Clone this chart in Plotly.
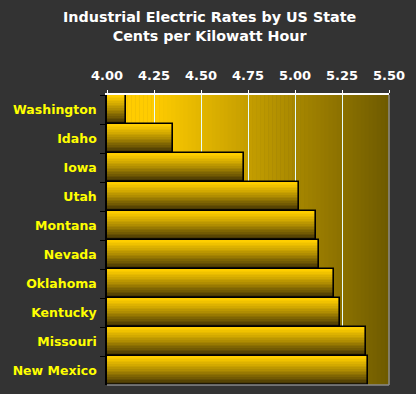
import plotly.graph_objects as go

states = ["Washington", "Idaho", "Iowa", "Utah", "Montana", "Nevada",
          "Oklahoma", "Kentucky", "Missouri", "New Mexico"]
rates = [4.10, 4.35, 4.73, 5.02, 5.11, 5.13, 5.21, 5.24, 5.38, 5.39]
tick_vals = [4.00, 4.25, 4.50, 4.75, 5.00, 5.25, 5.50]
base_val = 4.0


def lerp(c1, c2, t):
    return "rgb(%d,%d,%d)" % tuple(round(a + (b - a) * t) for a, b in zip(c1, c2))


fig = go.Figure()

# vertical gradient inside bars via thin stacked stripes (drawn top to bottom, overlapping)
N = 18
top_c = (255, 206, 0)
bot_c = (60, 46, 4)
lengths = [r - base_val for r in rates]
for i in range(N):
    t = i / (N - 1)
    c = lerp(top_c, bot_c, t ** 1.2)
    start = -0.5 + i / N
    fig.add_trace(go.Bar(
        orientation="h", y=states, x=lengths, base=base_val,
        width=0.5 - start if i == N - 1 else 1.0 / N + 0.02, offset=start,
        marker=dict(color=c, line=dict(width=0)),
        hoverinfo="skip", showlegend=False))

# outline
fig.add_trace(go.Bar(
    orientation="h", y=states, x=lengths, base=base_val,
    width=1.0, marker=dict(color="rgba(0,0,0,0)", line=dict(color="black", width=1.6)),
    showlegend=False))

# horizontal gradient plot background
M = 70
left_c = (255, 204, 0)
right_c = (110, 90, 0)
flat = 1 / 6
shapes = []
for i in range(M):
    xm = (i + 0.5) / M
    t = 0 if xm < flat else (xm - flat) / (1 - flat)
    shapes.append(dict(type="rect", xref="paper", yref="paper",
                       x0=i / M, x1=(i + 1) / M + 0.002, y0=0, y1=1,
                       fillcolor=lerp(left_c, right_c, t),
                       line=dict(width=0), layer="below"))
shapes.append(dict(type="line", xref="paper", yref="paper", x0=1, x1=1, y0=0, y1=1,
                   line=dict(color="#8a8a8a", width=1.5), layer="above"))
shapes.append(dict(type="line", xref="paper", yref="paper", x0=0, x1=1, y0=0, y1=0,
                   line=dict(color="#8a8a8a", width=1.5), layer="above"))

fig.update_layout(
    width=416, height=394,
    paper_bgcolor="#333333", plot_bgcolor="#333333",
    margin=dict(l=107, r=27, t=95, b=9, autoexpand=False),
    barmode="overlay", bargap=0,
    shapes=shapes,
    annotations=[dict(text="Industrial Electric Rates by US State<br>Cents per Kilowatt Hour",
                      xref="paper", yref="paper", x=(209 - 107) / 282, y=1 + (95 - 26) / 290,
                      xanchor="center", yanchor="middle", showarrow=False,
                      font=dict(family="DejaVu Sans", size=14.3, color="white", weight="bold"))],
    font=dict(family="DejaVu Sans"),
)
fig.update_xaxes(side="top", range=[4.0, 5.5], tickvals=tick_vals,
                 tickformat=".2f", showgrid=True, gridcolor="#e6ffff", gridwidth=1,
                 zeroline=False, showline=True, linecolor="white", linewidth=1.5,
                 ticks="outside", ticklen=3, tickcolor="white", tickwidth=1,
                 ticklabelstandoff=5,
                 tickfont=dict(color="white", size=13, weight="bold"))
fig.update_yaxes(autorange="reversed", showgrid=False, showline=True,
                 linecolor="black", linewidth=1.5, ticks="outside", ticklen=5,
                 tickcolor="black", tickson="boundaries",
                 tickfont=dict(color="#ffff00", size=12.5, weight="bold"),
                 ticklabelstandoff=6)

fig.write_html("out.html", config={"displayModeBar": False},
               post_script="document.body.style.margin='0';")
